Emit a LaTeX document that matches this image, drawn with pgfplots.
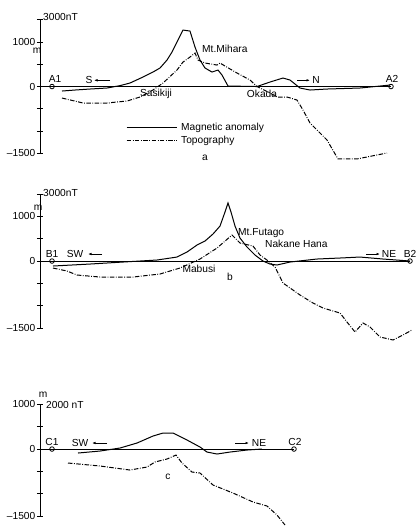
\documentclass[border=0pt]{standalone}
\usepackage{fontspec}
\setmainfont{Liberation Sans}
\usepackage{pgfplots}
\pgfplotsset{compat=1.18}
\usepackage{pgfplotstable}
\usetikzlibrary{arrows.meta}

\newcommand\lab{\fontsize{10.2bp}{12bp}\selectfont}

% x in picture units (1 bp each), y in metres; magnetic anomaly in nT, 1 m <-> 2 nT
\pgfplotstableread{
x nT
62 -202
75 -157
90 -112
107 -67
120 40
130 157
143 426
153 650
160 830
167 1188
172 1547
178 2085
183 2533
190 2489
195 1771
200 1188
205 830
212 650
218 740
222 516
228 22
257 0
270 202
283 381
290 291
300 -67
310 -157
327 -112
360 -67
380 22
390 67
}\magA
\pgfplotstableread{
x m
62 -258
83 -370
107 -370
127 -325
140 -235
153 -78
163 78
177 370
183 549
190 661
195 751
198 594
205 527
217 482
220 527
225 460
237 303
250 146
257 0
270 -146
277 -235
287 -235
297 -303
303 -527
310 -818
327 -1200
338 -1625
357 -1625
387 -1491
}\topoA
\pgfplotstableread{
x nT
53 -224
90 -135
123 -45
157 45
177 179
187 404
197 717
205 897
213 1211
220 1569
225 2197
228 2601
231 2197
235 1569
240 1031
247 628
255 269
263 0
270 -135
277 -179
290 -45
317 90
340 135
360 179
383 90
410 0
}\magB
\pgfplotstableread{
x m
53 -157
67 -224
77 -314
100 -359
133 -359
160 -291
180 -157
200 45
217 291
232 583
240 404
253 336
260 135
267 22
275 -135
283 -493
300 -762
313 -942
323 -1054
340 -1166
347 -1368
355 -1592
363 -1390
370 -1480
380 -1704
393 -1771
403 -1659
412 -1547
}\topoB
\pgfplotstableread{
x nT
78 -179
100 -90
120 45
137 269
153 583
163 717
173 717
187 404
200 90
207 -135
217 -224
230 -135
247 -45
262 0
}\magC
\pgfplotstableread{
x m
68 -314
100 -381
130 -471
147 -404
155 -291
167 -224
176 -135
182 -314
192 -516
200 -538
213 -807
233 -987
253 -1188
267 -1278
277 -1480
285 -1704
}\topoC

\tikzset{arr/.style={-{Latex[length=3.5bp,width=2.6bp]}, line width=0.9bp}}

\pgfplotsset{
  prof/.style={
    x=1bp, y=0.0446bp, xmin=40, xmax=419, ymin=-1500,
    axis x line=none, axis y line*=left,
    clip=false, xtick=\empty,
    tick align=center, major tick length=6bp,
    every tick/.style={black, line width=0.8bp},
    axis line style={black, line width=0.9bp},
    yticklabel style={font=\lab, inner sep=1.5bp},
    anchor=south west,
  },
  mag/.style={black, line width=1bp},
  topo/.style={black, line width=1bp, dash pattern=on 4.5bp off 1.5bp on 0.8bp off 1.5bp},
  zero/.style={black, line width=0.8bp, forget plot},
  stn/.style={only marks, mark=o, mark size=2.3bp, mark options={fill=white, line width=0.8bp}, forget plot},
}

\begin{document}
\begin{tikzpicture}
\useasboundingbox (0,0) rectangle (419bp,-527bp);

% ---- a ----
\begin{axis}[prof, ymax=1500, at={(40bp,-153.4bp)},
  ytick={-1500,-1000,-500,0,500,1000,1500},
  yticklabels={--1500,,,0,,1000,},
  legend style={at={(axis cs:126,-1065)}, anchor=west, draw=none, fill=none,
    inner sep=0pt, row sep=2bp, font=\lab, nodes={inner sep=1bp}, cells={anchor=west}},
  legend image code/.code={\draw[#1] (0bp,0bp) -- (50bp,0bp); \path (53bp,0bp);}]
\addplot[zero] coordinates {(40,0) (391,0)};
\addplot[mag] table[x=x, y expr=\thisrow{nT}/2] {\magA};
\addlegendentry{Magnetic anomaly}
\addplot[topo] table[x=x, y=m] {\topoA};
\addlegendentry{Topography}
\addplot[stn] coordinates {(52,0) (391,0)};
\node[font=\lab] at (axis cs:55,168) {A1};
\node[font=\lab] at (axis cs:392,168) {A2};
\node[font=\lab] at (axis cs:89,140) {S};
\draw[arr] (axis cs:110,140) -- (axis cs:94,140);
\draw[arr] (axis cs:297,140) -- (axis cs:310,140);
\node[font=\lab] at (axis cs:316,140) {N};
\node[font=\lab] at (axis cs:156,-168) {Sasikiji};
\node[font=\lab] at (axis cs:262,-168) {Okada};
\node[font=\lab, anchor=west, inner sep=0pt] at (axis cs:202,841) {Mt.Mihara};
\node[font=\lab] at (axis cs:205,-1603) {a};
\node[font=\lab, anchor=west, inner sep=0pt] at (axis cs:43,1558) {3000nT};
\node[font=\lab] at (axis cs:37,810) {m};
\end{axis}

% ---- b ----
\begin{axis}[prof, ymax=1500, at={(40bp,-327.9bp)},
  ytick={-1500,-1000,-500,0,500,1000,1500},
  yticklabels={--1500,,,0,,1000,}]
\addplot[zero] coordinates {(40,0) (410,0)};
\addplot[mag] table[x=x, y expr=\thisrow{nT}/2] {\magB};
\addplot[topo] table[x=x, y=m] {\topoB};
\addplot[stn] coordinates {(52,0) (410,0)};
\node[font=\lab] at (axis cs:52,168) {B1};
\node[font=\lab] at (axis cs:410,168) {B2};
\node[font=\lab] at (axis cs:75,157) {SW};
\draw[arr] (axis cs:102,157) -- (axis cs:88,157);
\draw[arr] (axis cs:366,157) -- (axis cs:380,157);
\node[font=\lab] at (axis cs:389,157) {NE};
\node[font=\lab] at (axis cs:199,-179) {Mabusi};
\node[font=\lab] at (axis cs:230,-359) {b};
\node[font=\lab, anchor=west, inner sep=0pt] at (axis cs:238,628) {Mt.Futago};
\node[font=\lab, anchor=west, inner sep=0pt] at (axis cs:265,381) {Nakane Hana};
\node[font=\lab, anchor=west, inner sep=0pt] at (axis cs:43,1525) {3000nT};
\node[font=\lab] at (axis cs:38,1188) {m};
\end{axis}

% ---- c ----
\begin{axis}[prof, ymax=1000, at={(40bp,-515.9bp)},
  ytick={-1500,-1000,-500,0,500,1000},
  yticklabels={--1500,,,0,,1000}]
\addplot[zero] coordinates {(40,0) (294,0)};
\addplot[mag] table[x=x, y expr=\thisrow{nT}/2] {\magC};
\addplot[topo] table[x=x, y=m] {\topoC};
\addplot[stn] coordinates {(52,0) (294,0)};
\node[font=\lab] at (axis cs:52,157) {C1};
\node[font=\lab] at (axis cs:295,157) {C2};
\node[font=\lab] at (axis cs:80,135) {SW};
\draw[arr] (axis cs:107,135) -- (axis cs:92,135);
\draw[arr] (axis cs:235,135) -- (axis cs:249,135);
\node[font=\lab] at (axis cs:259,135) {NE};
\node[font=\lab] at (axis cs:168,-628) {c};
\node[font=\lab, anchor=west, inner sep=0pt] at (axis cs:46,986) {2000 nT};
\node[font=\lab] at (axis cs:43,1211) {m};
\end{axis}
\end{tikzpicture}
\end{document}
